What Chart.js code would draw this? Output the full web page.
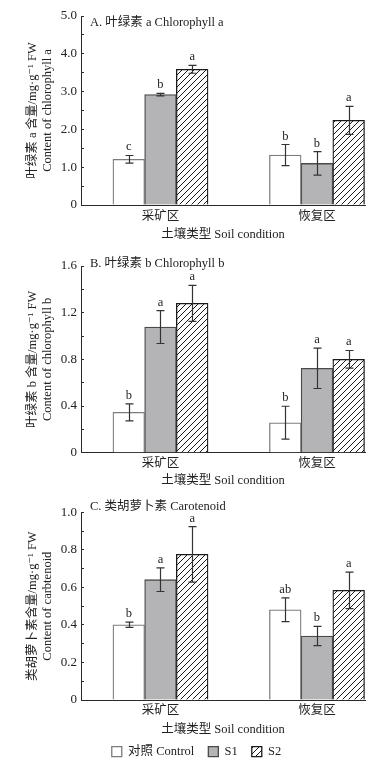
<!DOCTYPE html>
<html>
<head>
<meta charset="utf-8">
<script src="https://cdn.jsdelivr.net/npm/chart.js@4.4.1/dist/chart.umd.min.js"></script>
<style>
  html, body { margin: 0; padding: 0; background: #fff; }
  body { width: 384px; height: 763px; overflow: hidden; position: relative; }
  .panel { position: absolute; left: 0; width: 384px; }
</style>
</head>
<body>
<div class="panel" style="top:0px;height:245px"><canvas id="chartA" width="384" height="245"></canvas></div>
<div class="panel" style="top:250px;height:240px"><canvas id="chartB" width="384" height="240"></canvas></div>
<div class="panel" style="top:490px;height:280px"><canvas id="chartC" width="384" height="280"></canvas></div>
<script>
"use strict";

// categories
const soilGroups = ['采矿区', '恢复区'];
const treatments = ['对照 Control', 'S1', 'S2'];

// A. chlorophyll a (mg/g FW)
const chlaControl = [1.21, 1.32];
const chlaS1 = [2.92, 1.10];
const chlaS2 = [3.59, 2.24];
const chlaControlErr = [0.10, 0.28];
const chlaS1Err = [0.035, 0.31];
const chlaS2Err = [0.105, 0.37];
const chlaControlSig = ['c', 'b'];
const chlaS1Sig = ['b', 'b'];
const chlaS2Sig = ['a', 'a'];

// B. chlorophyll b
const chlbControl = [0.346, 0.257];
const chlbS1 = [1.077, 0.723];
const chlbS2 = [1.28, 0.80];
const chlbControlErr = [0.073, 0.141];
const chlbS1Err = [0.141, 0.173];
const chlbS2Err = [0.154, 0.076];
const chlbControlSig = ['b', 'b'];
const chlbS1Sig = ['a', 'a'];
const chlbS2Sig = ['a', 'a'];

// C. carotenoid
const carControl = [0.401, 0.481];
const carS1 = [0.641, 0.341];
const carS2 = [0.776, 0.584];
const carControlErr = [0.014, 0.063];
const carS1Err = [0.063, 0.051];
const carS2Err = [0.148, 0.097];
const carControlSig = ['b', 'ab'];
const carS1Sig = ['a', 'b'];
const carS2Sig = ['a', 'a'];

const FONT = "'Liberation Serif', 'Noto Sans CJK SC', 'DejaVu Serif', serif";
const INK = '#222';
const AXIS = '#2a2a2a';

function hatch() {
  const c = document.createElement('canvas');
  c.width = 6; c.height = 6;
  const g = c.getContext('2d');
  g.fillStyle = '#fff';
  g.fillRect(0, 0, 6, 6);
  g.strokeStyle = '#1a1a1a';
  g.lineWidth = 1;
  g.beginPath();
  g.moveTo(0, 6); g.lineTo(6, 0);
  g.moveTo(-3, 3); g.lineTo(3, -3);
  g.moveTo(3, 9); g.lineTo(9, 3);
  g.stroke();
  return g.createPattern(c, 'repeat');
}
const hatchFill = hatch();

const points = (vals) => vals.map((y, i) => ({ x: i + 1, y }));

const errorBars = {
  id: 'errorBars',
  afterDatasetsDraw(chart) {
    const { ctx } = chart;
    const y = chart.scales.y;
    ctx.save();
    chart.data.datasets.forEach((ds, di) => {
      chart.getDatasetMeta(di).data.forEach((bar, i) => {
        const v = ds.data[i].y, e = ds.errors[i];
        const top = y.getPixelForValue(v + e);
        const bot = y.getPixelForValue(v - e);
        const x = Math.round(bar.x) + 0.5;
        ctx.strokeStyle = '#333';
        ctx.lineWidth = 1.2;
        ctx.beginPath();
        ctx.moveTo(x, top); ctx.lineTo(x, bot);
        ctx.moveTo(x - 4, top); ctx.lineTo(x + 4, top);
        ctx.moveTo(x - 4, bot); ctx.lineTo(x + 4, bot);
        ctx.stroke();
        ctx.fillStyle = INK;
        ctx.font = '12.5px ' + FONT;
        ctx.textAlign = 'center';
        ctx.textBaseline = 'alphabetic';
        ctx.fillText(ds.sig[i], bar.x, top - 5);
      });
    });
    ctx.restore();
  }
};

const panelLabel = {
  id: 'panelLabel',
  afterDraw(chart, args, opts) {
    const { ctx, chartArea } = chart;
    ctx.save();
    ctx.fillStyle = INK;
    ctx.font = '12.5px ' + FONT;
    ctx.textAlign = 'left';
    ctx.textBaseline = 'middle';
    ctx.fillText(opts.text, chartArea.left + 9, chartArea.top + opts.dy);
    ctx.restore();
  }
};

function makePanel(id, p) {
  const datasets = [
    { label: treatments[0], data: points(p.control), errors: p.controlErr, sig: p.controlSig,
      backgroundColor: '#fff', borderColor: '#7c7c7c', borderWidth: 1.3 },
    { label: treatments[1], data: points(p.s1), errors: p.s1Err, sig: p.s1Sig,
      backgroundColor: '#b4b4b7', borderColor: '#4a4a4a', borderWidth: 1.3 },
    { label: treatments[2], data: points(p.s2), errors: p.s2Err, sig: p.s2Sig,
      backgroundColor: hatchFill, borderColor: '#1a1a1a', borderWidth: 1.3 },
  ];
  return new Chart(document.getElementById(id), {
    type: 'bar',
    data: { datasets },
    plugins: [errorBars, panelLabel],
    options: {
      responsive: false,
      animation: false,
      barThickness: 31.7,
      layout: { padding: { left: p.padLeft, right: 19, top: p.padTop, bottom: p.padBottom } },
      plugins: {
        tooltip: { enabled: false },
        panelLabel: { text: p.label, dy: p.labelDy },
        legend: {
          display: !!p.legend,
          position: 'bottom',
          labels: {
            boxWidth: 10, boxHeight: 10, padding: 14, color: INK,
            font: { family: FONT, size: 12.5 },
          },
        },
      },
      scales: {
        x: {
          type: 'linear',
          offset: false,
          min: 0.492,
          max: 2.307,
          afterBuildTicks: (s) => { s.ticks = soilGroups.map((_, i) => ({ value: i + 1 })); },
          afterFit: (s) => { s.height = p.xHeight; },
          grid: { display: false, drawTicks: false, tickLength: 0, offset: false },
          border: { display: true, color: AXIS, width: 1 },
          ticks: {
            autoSkip: false, maxRotation: 0, padding: p.xTickPad, color: INK,
            font: { family: FONT, size: 12.5 },
            callback: (v) => soilGroups[Math.round(v) - 1],
          },
          title: {
            display: true, text: '土壤类型 Soil condition', color: INK,
            font: { family: FONT, size: 12.5, lineHeight: 1.2 },
            padding: { top: 0, bottom: p.xTitlePad },
          },
        },
        y: {
          min: 0,
          max: p.yMax,
          afterFit: (s) => { s.width = 81 - p.padLeft; },
          grid: { drawOnChartArea: false, drawTicks: true, tickLength: -3, color: AXIS, lineWidth: 1 },
          border: { display: true, color: AXIS, width: 1 },
          ticks: {
            stepSize: p.minor, autoSkip: false, padding: 7, color: INK,
            font: { family: FONT, size: 13 },
            callback: (v) => {
              const k = Math.round(v / p.minor);
              if (k % 2) return '';
              return k === 0 ? '0' : (k * p.minor).toFixed(1);
            },
          },
          title: {
            display: true, text: p.yTitle, color: INK,
            font: { family: FONT, size: 12.5, lineHeight: 1.2 },
            padding: { top: 32.5 - 7.5 - p.padLeft, bottom: 0 },
          },
        },
      },
    },
  });
}

makePanel('chartA', {
  control: chlaControl, s1: chlaS1, s2: chlaS2,
  controlErr: chlaControlErr, s1Err: chlaS1Err, s2Err: chlaS2Err,
  controlSig: chlaControlSig, s1Sig: chlaS1Sig, s2Sig: chlaS2Sig,
  yMax: 5, minor: 0.5,
  yTitle: ['叶绿素 a 含量/mg·g⁻¹ FW', 'Content of chlorophyll a'],
  label: 'A. 叶绿素 a Chlorophyll a', labelDy: 6.7,
  padLeft: 0, padTop: 16, padBottom: 0, xHeight: 40, xTickPad: 4.2, xTitlePad: 2.5,
});

makePanel('chartB', {
  control: chlbControl, s1: chlbS1, s2: chlbS2,
  controlErr: chlbControlErr, s1Err: chlbS1Err, s2Err: chlbS2Err,
  controlSig: chlbControlSig, s1Sig: chlbS1Sig, s2Sig: chlbS2Sig,
  yMax: 1.6, minor: 0.2,
  yTitle: ['叶绿素 b 含量/mg·g⁻¹ FW', 'Content of chlorophyll b'],
  label: 'B. 叶绿素 b Chlorophyll b', labelDy: -2.7,
  padLeft: 0, padTop: 16, padBottom: 0, xHeight: 37.3, xTickPad: 3.1, xTitlePad: 1.5,
});

makePanel('chartC', {
  control: carControl, s1: carS1, s2: carS2,
  controlErr: carControlErr, s1Err: carS1Err, s2Err: carS2Err,
  controlSig: carControlSig, s1Sig: carS1Sig, s2Sig: carS2Sig,
  yMax: 1.0, minor: 0.1,
  yTitle: ['类胡萝卜素含量/mg·g⁻¹ FW', 'Content of carbtenoid'],
  label: 'C. 类胡萝卜素 Carotenoid', labelDy: -5.6,
  padLeft: 28, padTop: 22.3, padBottom: 2.05, xHeight: 31.45, xTickPad: 3.5, xTitlePad: -5.35,
  legend: true,
});
</script>
</body>
</html>
